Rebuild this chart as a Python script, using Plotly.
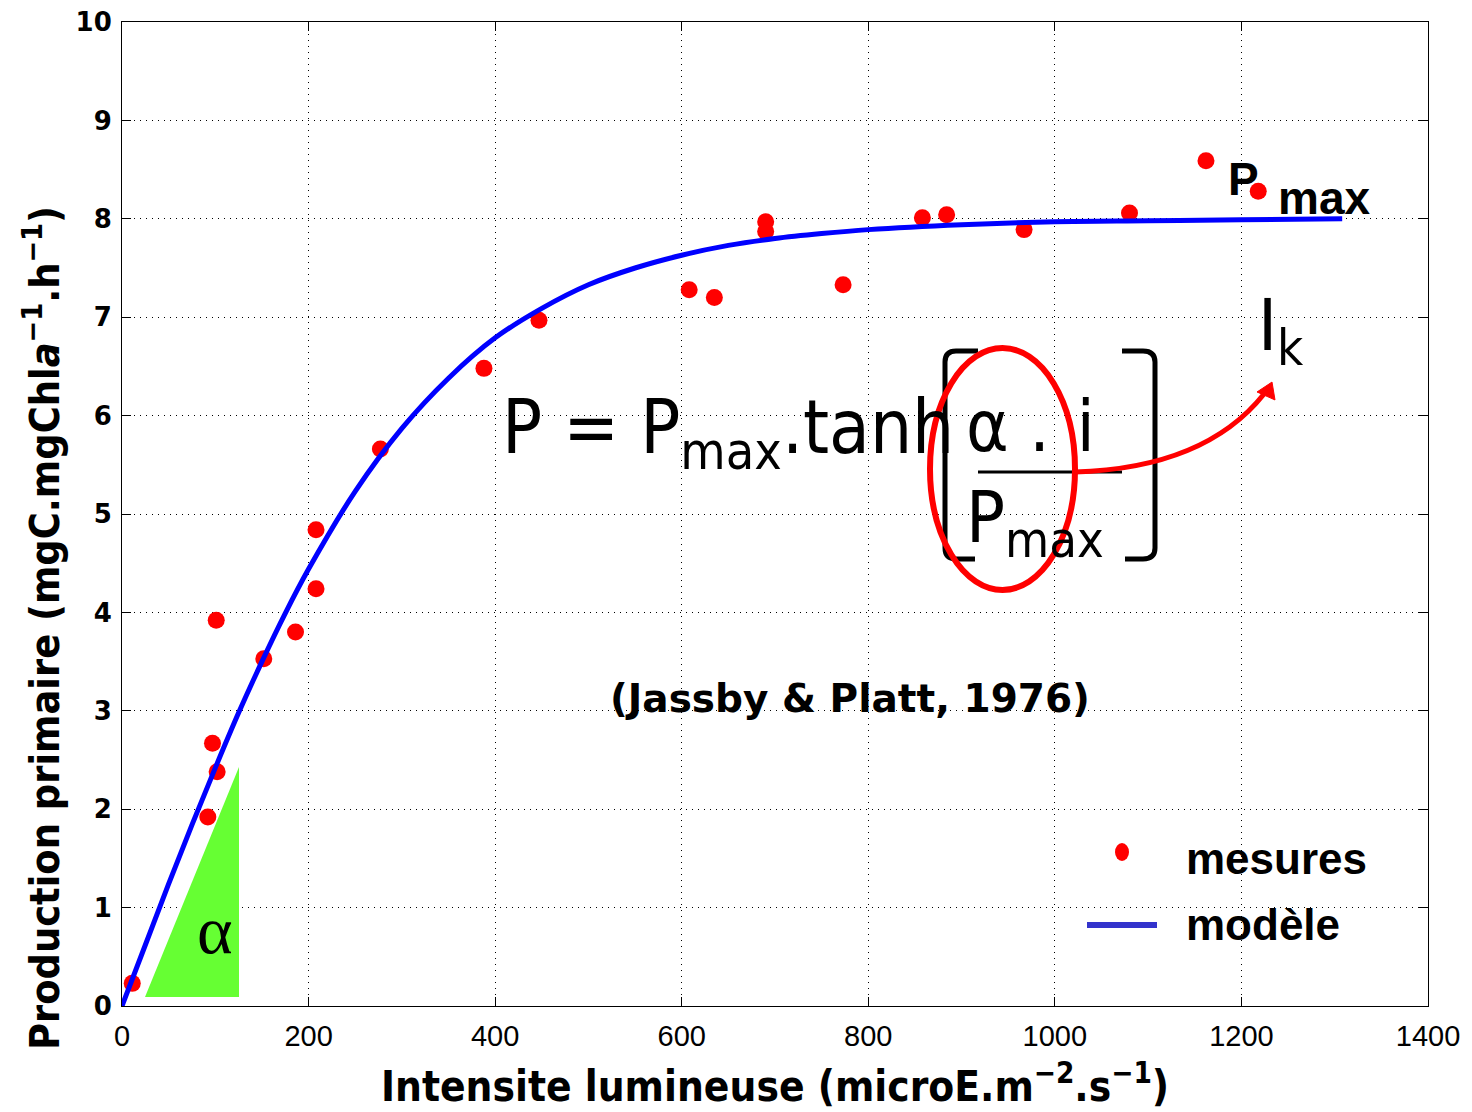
import plotly.graph_objects as go

# ---------------- data ----------------
intensite = [11, 92, 97, 102, 101, 152, 186, 208, 208, 277, 388, 447,
             608, 635, 690, 690, 773, 858, 884, 967, 1080, 1162, 1218]
production = [0.23, 1.92, 2.67, 2.38, 3.92, 3.53, 3.80, 4.24, 4.84, 5.66, 6.48, 6.97,
              7.28, 7.20, 7.97, 7.87, 7.33, 8.01, 8.04, 7.89, 8.06, 8.59, 8.28]

modele_x = [0, 25, 50, 75, 100, 125, 150, 175, 200, 250, 300, 350, 400, 450, 500,
            550, 600, 650, 700, 750, 800, 900, 1000, 1100, 1200, 1308]
modele_y = [0, 0.62, 1.24, 1.84, 2.42, 2.98, 3.50, 3.99, 4.44, 5.23, 5.87, 6.38, 6.79,
            7.09, 7.33, 7.50, 7.63, 7.73, 7.80, 7.85, 7.89, 7.94, 7.97, 7.98, 7.99, 8.00]

x_ticks = [0, 200, 400, 600, 800, 1000, 1200, 1400]
y_ticks = [0, 1, 2, 3, 4, 5, 6, 7, 8, 9, 10]

# ---------------- layout geometry ----------------
W, H = 1472, 1112
L, R, T, B = 122, 1428, 22, 1006
XMAX, YMAX = 1400, 10


def dx(p):
    return (p - L) / (R - L) * XMAX


def dy(p):
    return (B - p) / (B - T) * YMAX


def path(points, close=False):
    s = ""
    for cmd, pts in points:
        s += cmd + " " + " ".join(f"{dx(a):.3f},{dy(b):.3f}" for a, b in pts) + " "
    if close:
        s += "Z"
    return s


NARROW = "Liberation Sans Narrow, DejaVu Sans Condensed, Arial Narrow, sans-serif"
SANS = "Liberation Sans, Arial, Helvetica, sans-serif"
DEJA = "DejaVu Sans, Verdana, sans-serif"

fig = go.Figure()

fig.add_trace(go.Scatter(
    x=intensite, y=production, mode="markers", name="mesures",
    marker=dict(color="#ff0000", size=17, symbol="circle"), showlegend=False))
fig.add_trace(go.Scatter(
    x=modele_x, y=modele_y, mode="lines", name="modèle",
    line=dict(color="#0000ff", width=5, shape="spline", smoothing=1.0), showlegend=False))

shapes = []
# green triangle (alpha)
shapes.append(dict(type="path", xref="x", yref="y",
                   path=path([("M", [(145, 997)]), ("L", [(239, 997)]), ("L", [(239, 767)])], close=True),
                   fillcolor="#66ff33", line=dict(width=0), layer="above"))
# fraction bar
shapes.append(dict(type="line", xref="x", yref="y", x0=dx(978), x1=dx(1122), y0=dy(472), y1=dy(472),
                   line=dict(color="black", width=3)))
# left bracket
shapes.append(dict(type="path", xref="x", yref="y",
                   path=path([("M", [(978, 351)]), ("L", [(956, 351)]), ("Q", [(945, 351), (945, 362)]),
                              ("L", [(945, 548)]), ("Q", [(945, 559), (956, 559)]), ("L", [(975, 559)])]),
                   line=dict(color="black", width=5)))
# right bracket
shapes.append(dict(type="path", xref="x", yref="y",
                   path=path([("M", [(1122, 351)]), ("L", [(1143, 351)]), ("Q", [(1155, 351), (1155, 362)]),
                              ("L", [(1155, 548)]), ("Q", [(1155, 559), (1143, 559)]), ("L", [(1125, 559)])]),
                   line=dict(color="black", width=5)))
# red ellipse
shapes.append(dict(type="circle", xref="x", yref="y", x0=dx(930), x1=dx(1075), y0=dy(590), y1=dy(348),
                   line=dict(color="#ff0000", width=6)))
# red curved arrow
shapes.append(dict(type="path", xref="x", yref="y",
                   path=path([("M", [(1075, 472)]), ("Q", [(1205, 468), (1264, 394)])]),
                   line=dict(color="#ff0000", width=5)))
shapes.append(dict(type="path", xref="x", yref="y",
                   path=path([("M", [(1272, 382)]), ("L", [(1257, 392)]), ("L", [(1275, 400)])], close=True),
                   fillcolor="#ff0000", line=dict(color="#ff0000", width=1)))
# legend
shapes.append(dict(type="circle", xref="x", yref="y", x0=dx(1115), x1=dx(1129), y0=dy(861), y1=dy(843),
                   fillcolor="#ff0000", line=dict(width=0)))
shapes.append(dict(type="line", xref="x", yref="y", x0=dx(1087), x1=dx(1157), y0=dy(925), y1=dy(925),
                   line=dict(color="#3333cc", width=6)))

ann = []


def txt(text, x, y, size, family=SANS, weight="normal", xanchor="left", yanchor="middle",
        color="black", angle=0):
    ann.append(dict(text=text, x=dx(x), y=dy(y), xref="x", yref="y", showarrow=False,
                    xanchor=xanchor, yanchor=yanchor, textangle=angle,
                    font=dict(size=size, family=family, weight=weight, color=color)))


txt("P = P<sub>max</sub>.tanh", 500, 432, 74, family=NARROW)
txt("α . \u200ai", 964, 426, 72, family=NARROW)
txt("P<sub>max</sub>", 964, 522, 72, family=NARROW)
txt("I<sub>k</sub>", 1256, 330, 72, family=NARROW)
txt("P", 1226, 179, 46, weight="bold")
txt("max", 1276, 198, 46, weight="bold")
txt("(Jassby &amp; Platt, 1976)", 850, 698, 39, family=DEJA, weight="bold", xanchor="center")
txt("α", 215, 930, 68, family="Liberation Serif, Times New Roman, serif", xanchor="center")
txt("mesures", 1184, 858, 44, weight="bold")
txt("modèle", 1184, 924, 44, weight="bold")

# y axis title (placed like the reference, off-centre) in paper coordinates
ann.append(dict(text="Production primaire (mgC.mgChl<i>a</i><sup>−1</sup>.h<sup>−1</sup>)",
                x=(42 - L) / (R - L), y=(B - 628) / (B - T), xref="paper", yref="paper",
                showarrow=False, xanchor="center", yanchor="middle", textangle=-90,
                font=dict(size=41, family=NARROW, weight="bold", color="black")))

fig.update_layout(
    width=W, height=H,
    margin=dict(l=L, r=W - R, t=T, b=H - B, autoexpand=False),
    paper_bgcolor="white", plot_bgcolor="white",
    shapes=shapes, annotations=ann,
    showlegend=False,
)

fig.update_xaxes(
    range=[0, XMAX], tickvals=x_ticks, ticktext=[str(v) for v in x_ticks],
    showgrid=True, gridcolor="black", gridwidth=1, griddash="1px,5px",
    zeroline=False, showline=True, linecolor="black", linewidth=1, mirror="allticks",
    ticks="inside", ticklen=9, tickcolor="black", automargin=False,
    tickfont=dict(size=29, family=SANS, color="black"), ticklabelstandoff=4,
    title=dict(text="Intensite lumineuse (microE.m<sup>−2</sup>.s<sup>−1</sup>)",
               font=dict(size=42, family=NARROW, weight="bold", color="black"), standoff=20),
)
fig.update_yaxes(
    range=[0, YMAX], tickvals=y_ticks, ticktext=[str(v) for v in y_ticks],
    showgrid=True, gridcolor="black", gridwidth=1, griddash="1px,5px",
    zeroline=False, showline=True, linecolor="black", linewidth=1, mirror="allticks",
    ticks="inside", ticklen=9, tickcolor="black", automargin=False,
    tickfont=dict(size=26, family=DEJA, weight="bold", color="black"),
    ticklabelstandoff=4,
)

fig.write_html("out.html")
